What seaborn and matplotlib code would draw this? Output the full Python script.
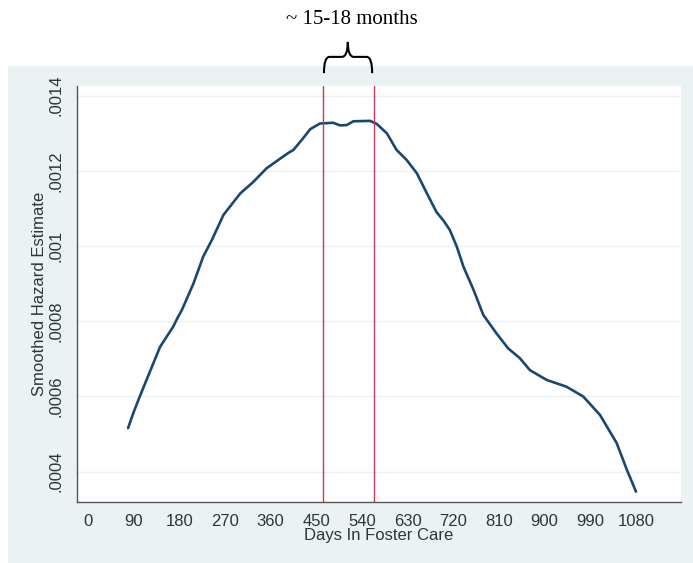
import numpy as np
import pandas as pd
import seaborn as sns
import matplotlib.pyplot as plt
from matplotlib.path import Path
from matplotlib.patches import PathPatch, Rectangle
from matplotlib import transforms

# smoothed hazard
days = [79, 89, 102, 122, 142, 168, 176, 185, 208, 227, 244, 267, 300, 326, 352,
        378, 395, 405, 424, 438, 457, 483, 497, 510, 523, 556, 569, 589, 608, 628,
        648, 668, 687, 700, 713, 727, 740, 760, 779, 805, 828, 851, 871, 904, 943,
        976, 1009, 1042, 1062, 1080]
hazard = [0.000516, 0.000555, 0.000600, 0.000666, 0.000732, 0.000786, 0.000808,
          0.000830, 0.000901, 0.000972, 0.001016, 0.001083, 0.001140, 0.001171,
          0.001207, 0.001232, 0.001248, 0.001256, 0.001287, 0.001311, 0.001326,
          0.001328, 0.001321, 0.001322, 0.001332, 0.001333, 0.001325, 0.001300,
          0.001256, 0.001229, 0.001194, 0.001140, 0.001090, 0.001069, 0.001043,
          0.000998, 0.000945, 0.000883, 0.000817, 0.000768, 0.000728, 0.000702,
          0.000670, 0.000644, 0.000626, 0.000600, 0.000551, 0.000476, 0.000405,
          0.000347]

window = [463, 563]
x_ticks = [0, 90, 180, 270, 360, 450, 540, 630, 720, 810, 900, 990, 1080]
y_ticks = [0.0004, 0.0006, 0.0008, 0.001, 0.0012, 0.0014]
y_ticklabels = [".0004", ".0006", ".0008", ".001", ".0012", ".0014"]

df = pd.DataFrame({"days": days, "hazard": hazard})

sns.set_style("white")
plt.rcParams["font.family"] = ["Liberation Sans", "DejaVu Sans"]

navy = "#1a476f"
panel = "#eaf2f3"

fig = plt.figure(figsize=(6.93, 5.63), dpi=100)
fig.patches.append(Rectangle((8 / 693, 0), 1 - 8 / 693, 1 - 66 / 563,
                             transform=fig.transFigure, facecolor=panel,
                             edgecolor="none", zorder=-1))
ax = fig.add_axes([77 / 693, 1 - 502 / 563, (681 - 77) / 693, (502 - 86) / 563])
ax.set_facecolor("white")

ax.grid(axis="y", color=panel, linewidth=1.0)
ax.set_axisbelow(True)

sns.lineplot(data=df, x="days", y="hazard", ax=ax, color=navy, linewidth=1.9,
             estimator=None, sort=True)
for d in window:
    ax.axvline(d, color="#c8385a", linewidth=1.0)

ax.set_xlim(-21.7, 1168.7)
ax.set_ylim(0.0003194, 0.0014258)
ax.set_xticks(x_ticks)
ax.set_yticks(y_ticks)
ax.set_yticklabels(y_ticklabels, rotation=90, va="center")
ax.tick_params(axis="both", direction="out", length=5, width=0.9,
               color="#555555", labelsize=12, labelcolor="#333333")
ax.tick_params(axis="x", pad=4)
ax.tick_params(axis="y", pad=5)

for side in ["top", "right"]:
    ax.spines[side].set_visible(False)
for side in ["left", "bottom"]:
    ax.spines[side].set_color("#555555")
    ax.spines[side].set_linewidth(1.0)

ax.set_xlabel("Days In Foster Care", fontsize=12, color="#333333", labelpad=-1)
ax.set_ylabel("Smoothed Hazard Estimate", fontsize=12, color="#333333", labelpad=1)

# curly brace over the window
tr = transforms.blended_transform_factory(ax.transData, ax.transAxes)
lo, hi, mid = 465, 560, 512
yb, ym, yt = 1.031, 1.070, 1.106
verts = [(lo, yb), (lo, ym), (lo + 11, ym), (mid - 12, ym),
         (mid, ym), (mid, yt), (mid, ym), (mid + 12, ym),
         (hi - 11, ym), (hi, ym), (hi, yb)]
codes = [Path.MOVETO, Path.CURVE3, Path.CURVE3, Path.LINETO,
         Path.CURVE3, Path.CURVE3, Path.CURVE3, Path.CURVE3,
         Path.LINETO, Path.CURVE3, Path.CURVE3]
ax.add_patch(PathPatch(Path(verts, codes), transform=tr, facecolor="none",
                       edgecolor="black", linewidth=1.5, clip_on=False))
ax.text(520, 1.1587, "~ 15-18 months", transform=tr, ha="center", va="center",
        fontsize=15, family=["Liberation Serif", "DejaVu Serif"], color="black")

fig.savefig("out.png", dpi=100, facecolor="white")
